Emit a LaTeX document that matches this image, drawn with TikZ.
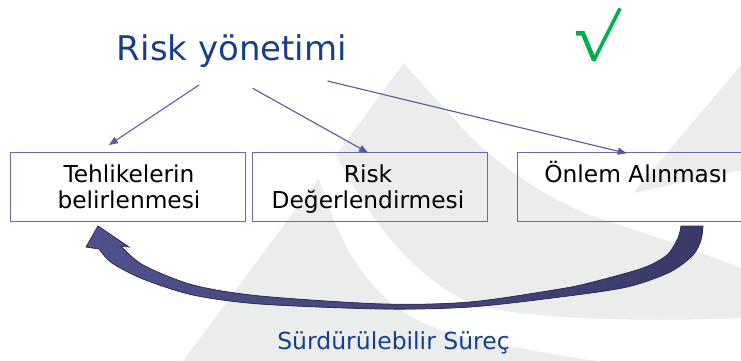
\documentclass[tikz,border=0pt]{standalone}
\usepackage{fontspec}
\setmainfont{DejaVu Sans}
\usetikzlibrary{arrows.meta}
\definecolor{titleblue}{RGB}{22,62,140}
\definecolor{boxline}{RGB}{105,105,178}
\definecolor{arrline}{RGB}{88,88,158}
\definecolor{wm}{RGB}{235,236,236}
\definecolor{chk}{RGB}{0,176,80}
\definecolor{bandL}{RGB}{80,80,140}
\definecolor{bandR}{RGB}{58,58,105}
\definecolor{bandedge}{RGB}{48,48,92}
\begin{document}
\begin{tikzpicture}[x=1pt,y=-1pt,
  box/.style={draw=boxline, line width=1.3pt, anchor=north west, inner sep=0pt, minimum height=69pt},
  boxtext/.style={anchor=base, font=\fontsize{23.3}{27}\selectfont, text=black},
  conn/.style={draw=arrline, line width=1.1pt, -{Triangle[length=9pt,width=7pt]}},
  wmfill/.style={fill=wm}]
\useasboundingbox (0,0) rectangle (741,361);
\clip (0,0) rectangle (741,361);
% watermark
\fill[wmfill] (404,63) -- (183,361) -- (741,361) -- (741,268)
  .. controls (690,248) and (630,228) .. (590,215)
  .. controls (540,195) and (490,160) .. (455,120)
  .. controls (435,98) and (418,80) .. (404,63) -- cycle;
\fill[white] (318.7,178) .. controls (345,260) and (380,320) .. (470,338)
  .. controls (530,350) and (570,358) .. (600,361) -- (741,361) -- (741,318)
  .. controls (650,322) and (520,320) .. (470,303)
  .. controls (400,270) and (360,200) .. (335.8,155) -- cycle;
\fill[wmfill] (741,65) -- (633,193) -- (741,170) -- cycle;
% title and check
\node[anchor=base, font=\fontsize{34}{40}\selectfont, text=titleblue] (title) at (232,60) {Risk yönetimi};
\draw[chk, line width=4.5pt, line join=miter] (576,33.5) -- (583,33.5) -- (594,60);
\draw[chk, line width=3.6pt] (593.5,61) -- (620,8.5);
% boxes
\node[box, minimum width=235pt] (b1) at (10,152) {};
\node[box, minimum width=235pt] (b2) at (251.7,152) {};
\node[box, minimum width=240pt] (b3) at (516.7,152) {};
\node[boxtext] (b1a) at (129,182) {Tehlikelerin};
\node[boxtext] (b1b) at (129,208) {belirlenmesi};
\node[boxtext] (b2a) at (368,182) {Risk};
\node[boxtext] (b2b) at (368,208) {Değerlendirmesi};
\node[boxtext] (b3a) at (636,182) {Önlem Alınması};
% connectors
\coordinate (s1) at (199,85);
\coordinate (e1) at (109,145);
\coordinate (s2) at (252.7,88.3);
\coordinate (e2) at (368,152.7);
\coordinate (s3) at (327.5,81);
\coordinate (e3) at (626.7,153.3);
\draw[conn] (s1) -- (e1);
\draw[conn] (s2) -- (e2);
\draw[conn] (s3) -- (e3);
% big curved arrow
\filldraw[draw=bandedge, line width=0.8pt, left color=bandL, right color=bandR]
  plot[smooth] coordinates {(703,226) (701,240) (693,255) (670,272) (627,287) (560,297) (470,307) (383,309) (260,304) (193,295) (143,279) (112,263) (99,249)}
  -- (86,247) -- (98,226) -- (129,247) --
  plot[smooth] coordinates {(121,246) (143,265) (193,285) (260,296) (383,304) (470,302) (560,289) (593,282) (643,268) (667,255) (678,238) (681,226)}
  -- cycle;
\node[anchor=base, font=\fontsize{23.5}{28}\selectfont, text=titleblue] (surec) at (393.5,349) {Sürdürülebilir Süreç};
\end{tikzpicture}
\end{document}
